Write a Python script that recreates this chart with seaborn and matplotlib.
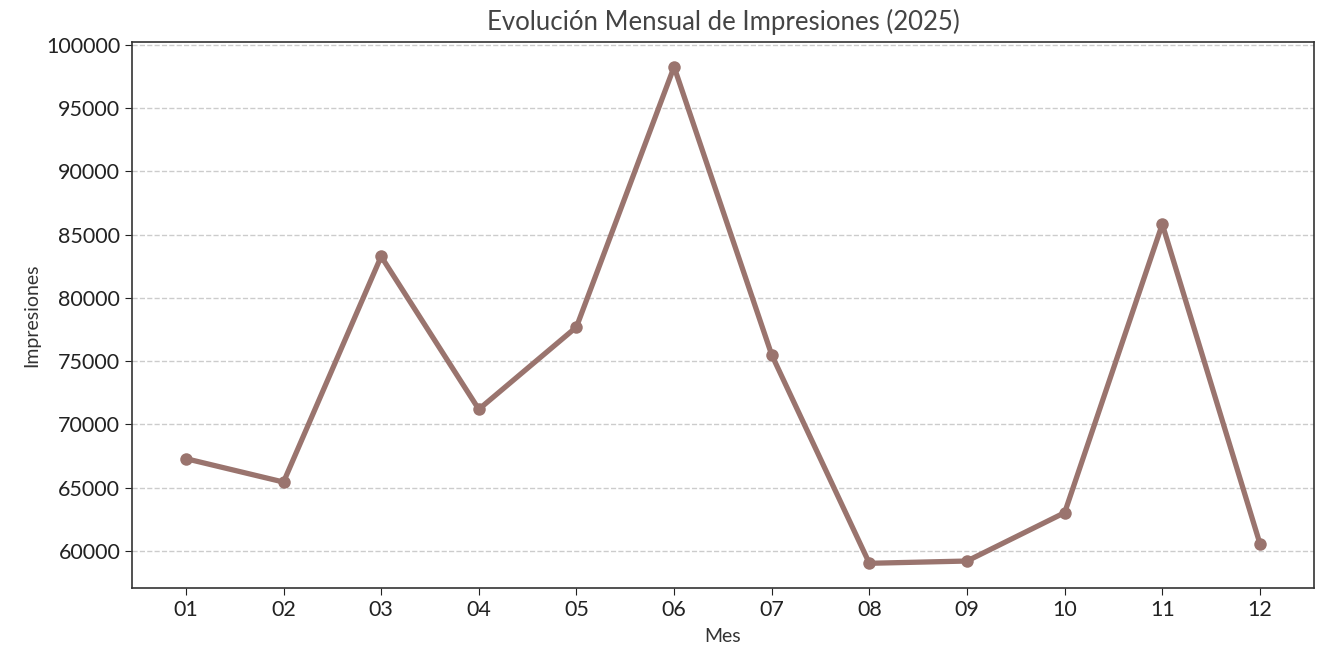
import pandas as pd
import seaborn as sns
from matplotlib import pyplot as plt

# datos mensuales
meses = ['01', '02', '03', '04', '05', '06', '07', '08', '09', '10', '11', '12']
impresiones = [67300, 65450, 83280, 71200, 77700, 98260, 75500, 59030, 59210, 63030, 85830, 60580]

titulo = 'Evolución Mensual de Impresiones (2025)'
color_linea = '#9a746e'

sns.set_style('ticks')
plt.rcParams['font.family'] = ['Lato', 'DejaVu Sans']

df = pd.DataFrame({'Mes': meses, 'Impresiones': impresiones})

fig, ax = plt.subplots(figsize=(13.35, 6.47), dpi=100)
fig.subplots_adjust(left=0.099, right=0.984, top=0.935, bottom=0.091)

sns.lineplot(data=df, x='Mes', y='Impresiones', ax=ax, color=color_linea,
             linewidth=3.8, marker='o', markersize=9, markeredgewidth=0)

ax.grid(axis='y', linestyle='--', color='#cccccc', linewidth=1)
ax.set_axisbelow(True)
for s in ax.spines.values():
    s.set_color('#333333')
    s.set_linewidth(1.2)

ax.set_title(titulo, fontsize=18.5, color='#444444', pad=9)
ax.set_xlabel('Mes', fontsize=14, color='#333333', labelpad=6)
ax.set_ylabel('Impresiones', fontsize=14, color='#333333')
ax.tick_params(axis='both', labelsize=15.5, colors='#222222', length=5)

plt.savefig('out.png', dpi=100)
